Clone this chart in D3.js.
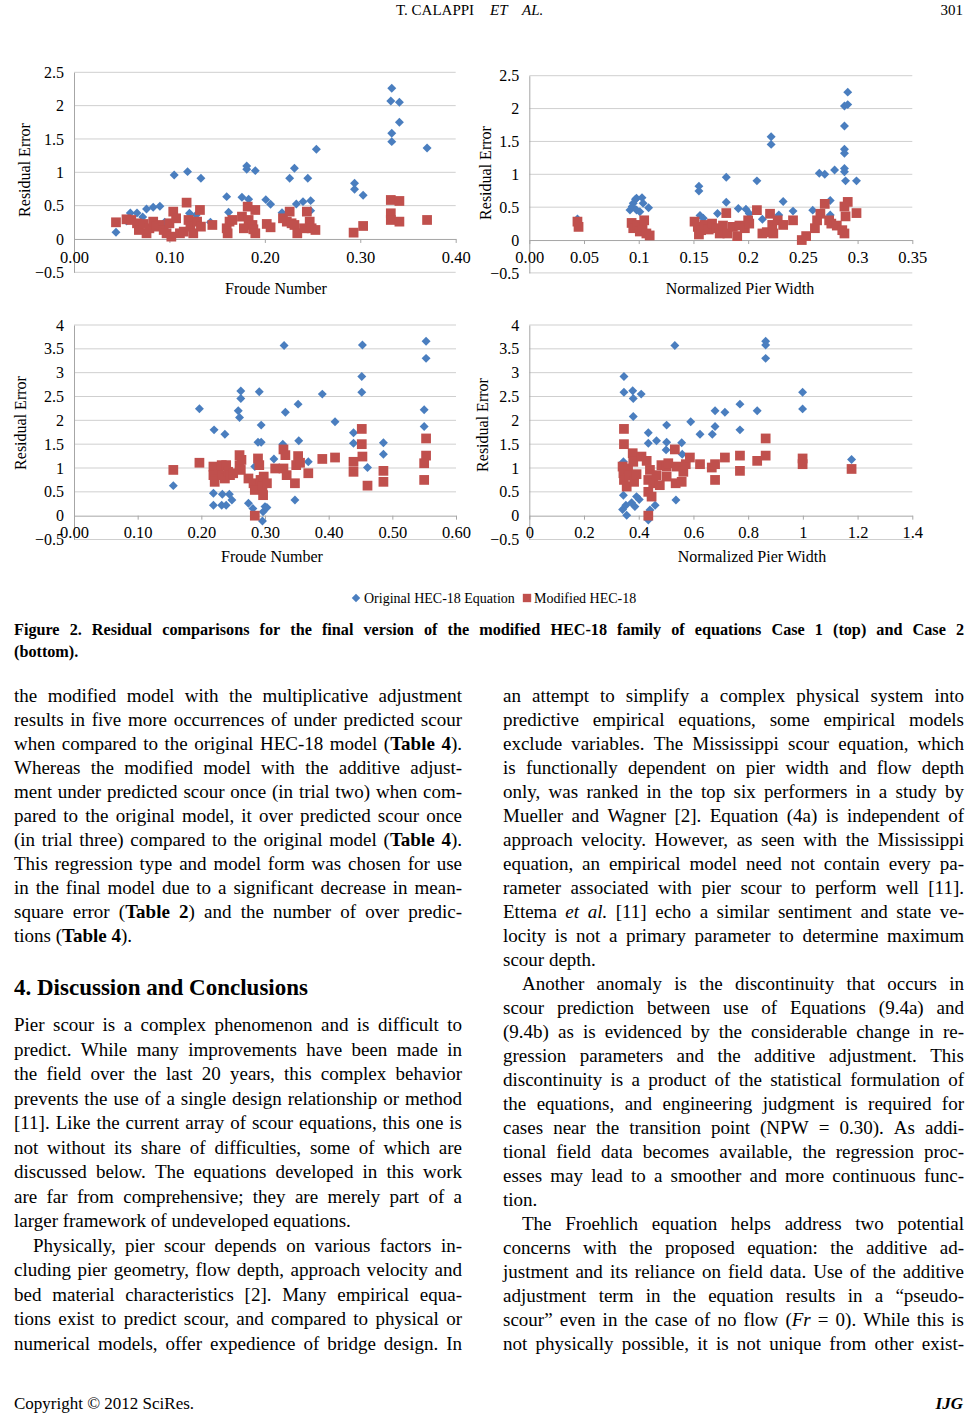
<!DOCTYPE html>
<html><head><meta charset="utf-8">
<script src="https://cdn.jsdelivr.net/npm/d3@7"></script>
<style>
body{margin:0;background:#fff;}
svg{display:block;font-family:"Liberation Serif","Times New Roman",serif;}
</style></head><body>
<svg id="page" width="967" height="1414"></svg>
<script>
// ---------------- DATA ----------------
const seriesNames = ["Original HEC-18 Equation", "Modified HEC-18"];

const yTicksCase1 = [-0.5, 0, 0.5, 1, 1.5, 2, 2.5];
const yLabelsCase1 = ["\u22120.5", "0", "0.5", "1", "1.5", "2", "2.5"];
const yTicksCase2 = [-0.5, 0, 0.5, 1, 1.5, 2, 2.5, 3, 3.5, 4];
const yLabelsCase2 = ["\u22120.5", "0", "0.5", "1", "1.5", "2", "2.5", "3", "3.5", "4"];

const xTicksP1 = [0, 0.1, 0.2, 0.3, 0.4];
const xLabelsP1 = ["0.00", "0.10", "0.20", "0.30", "0.40"];
const xTicksP2 = [0, 0.05, 0.1, 0.15, 0.2, 0.25, 0.3, 0.35];
const xLabelsP2 = ["0.00", "0.05", "0.1", "0.15", "0.2", "0.25", "0.3", "0.35"];
const xTicksP3 = [0, 0.1, 0.2, 0.3, 0.4, 0.5, 0.6];
const xLabelsP3 = ["0.00", "0.10", "0.20", "0.30", "0.40", "0.50", "0.60"];
const xTicksP4 = [0, 0.2, 0.4, 0.6, 0.8, 1, 1.2, 1.4];
const xLabelsP4 = ["0", "0.2", "0.4", "0.6", "0.8", "1", "1.2", "1.4"];

// Case 1, Froude number
const p1Original = [[0.044,0.10],[0.055,0.27],[0.059,0.39],[0.066,0.39],[0.072,0.33],[0.076,0.45],[0.083,0.475],[0.090,0.49],[0.095,0.25],[0.105,0.96],[0.119,1.01],[0.121,0.385],[0.128,0.36],[0.133,0.91],[0.143,0.25],[0.160,0.635],[0.162,0.40],[0.176,0.625],[0.181,1.095],[0.181,1.045],[0.183,0.595],[0.190,1.025],[0.201,0.59],[0.206,0.52],[0.218,0.395],[0.226,0.91],[0.231,1.06],[0.233,0.525],[0.240,0.56],[0.245,0.91],[0.248,0.575],[0.248,0.425],[0.254,1.345],[0.294,0.835],[0.294,0.745],[0.303,0.655],[0.333,2.26],[0.332,2.07],[0.341,2.05],[0.341,1.75],[0.333,1.585],[0.333,1.46],[0.370,1.365]];
const p1Modified = [[0.044,0.25],[0.055,0.295],[0.06,0.285],[0.066,0.235],[0.068,0.135],[0.073,0.225],[0.076,0.085],[0.079,0.16],[0.083,0.26],[0.086,0.185],[0.09,0.21],[0.094,0.135],[0.097,0.085],[0.1,0.235],[0.102,0.035],[0.104,0.41],[0.107,0.31],[0.111,0.085],[0.115,0.11],[0.118,0.545],[0.12,0.285],[0.122,0.185],[0.125,0.085],[0.129,0.26],[0.132,0.435],[0.133,0.185],[0.145,0.21],[0.16,0.16],[0.161,0.085],[0.163,0.26],[0.166,0.285],[0.176,0.335],[0.178,0.16],[0.182,0.485],[0.183,0.285],[0.187,0.21],[0.188,0.145],[0.19,0.085],[0.19,0.435],[0.202,0.225],[0.206,0.175],[0.219,0.31],[0.223,0.26],[0.226,0.41],[0.228,0.235],[0.231,0.21],[0.234,0.085],[0.241,0.16],[0.244,0.41],[0.247,0.26],[0.249,0.16],[0.253,0.135],[0.293,0.095],[0.303,0.195],[0.332,0.585],[0.332,0.385],[0.332,0.285],[0.341,0.57],[0.341,0.26],[0.37,0.285]];

// Case 1, normalized pier width
const p2Original = [[0.044,0.32],[0.092,0.457],[0.094,0.51],[0.095,0.56],[0.097,0.62],[0.098,0.635],[0.103,0.645],[0.101,0.43],[0.098,0.457],[0.109,0.49],[0.104,0.56],[0.156,0.375],[0.155,0.82],[0.155,0.745],[0.159,0.33],[0.172,0.405],[0.18,0.955],[0.18,0.575],[0.191,0.48],[0.198,0.47],[0.201,0.405],[0.208,0.9],[0.213,0.315],[0.221,1.57],[0.221,1.455],[0.228,0.38],[0.232,0.585],[0.241,0.44],[0.259,0.455],[0.265,1.015],[0.27,1.0],[0.275,0.6],[0.279,1.065],[0.275,0.38],[0.288,2.04],[0.288,1.735],[0.288,1.38],[0.288,1.32],[0.288,1.09],[0.288,1.04],[0.289,0.9],[0.291,2.25],[0.291,2.06],[0.299,0.9]];
const p2Modified = [[0.044,0.28],[0.045,0.2],[0.0935,0.26],[0.095,0.18],[0.099,0.23],[0.101,0.13],[0.1035,0.2],[0.105,0.3],[0.107,0.1],[0.11,0.07],[0.151,0.28],[0.154,0.2],[0.155,0.085],[0.157,0.15],[0.16,0.23],[0.164,0.16],[0.167,0.25],[0.171,0.18],[0.174,0.1],[0.177,0.22],[0.18,0.41],[0.181,0.1],[0.186,0.2],[0.19,0.06],[0.192,0.22],[0.197,0.18],[0.2,0.3],[0.201,0.25],[0.208,0.455],[0.213,0.1],[0.217,0.12],[0.22,0.4],[0.222,0.23],[0.223,0.1],[0.227,0.3],[0.232,0.23],[0.241,0.3],[0.249,0.0],[0.253,0.06],[0.261,0.18],[0.263,0.3],[0.266,0.4],[0.27,0.55],[0.274,0.3],[0.276,0.25],[0.281,0.22],[0.286,0.15],[0.288,0.51],[0.289,0.36],[0.291,0.58],[0.299,0.41],[0.288,0.1]];

// Case 2, Froude number
const p3Original = [[0.156,0.63],[0.197,2.245],[0.22,1.8],[0.219,0.47],[0.219,0.22],[0.237,1.71],[0.232,0.22],[0.239,0.22],[0.233,0.45],[0.244,0.45],[0.248,0.33],[0.258,2.2],[0.26,2.06],[0.262,2.615],[0.262,2.46],[0.274,0.26],[0.281,0.15],[0.284,1.03],[0.291,2.6],[0.289,1.54],[0.294,1.54],[0.294,1.9],[0.296,-0.11],[0.297,0.08],[0.3,0.19],[0.303,0.17],[0.314,1.19],[0.328,1.5],[0.33,3.57],[0.332,2.17],[0.347,0.33],[0.352,2.34],[0.353,1.57],[0.368,1.13],[0.39,2.55],[0.41,1.97],[0.439,1.74],[0.439,1.52],[0.453,3.58],[0.452,2.92],[0.452,2.59],[0.461,1.01],[0.486,1.53],[0.486,1.29],[0.553,3.66],[0.553,3.3],[0.55,2.22],[0.55,1.87]];
const p3Modified = [[0.156,0.96],[0.197,1.11],[0.219,1.03],[0.219,0.85],[0.221,0.71],[0.227,0.96],[0.232,1.06],[0.233,0.85],[0.237,0.78],[0.239,1.06],[0.242,0.92],[0.245,0.85],[0.25,0.89],[0.26,1.27],[0.26,1.06],[0.262,0.96],[0.263,1.17],[0.274,0.78],[0.282,0.68],[0.284,0.54],[0.289,1.2],[0.291,1.06],[0.293,0.75],[0.296,0.61],[0.297,0.43],[0.298,0.82],[0.303,0.68],[0.284,0.0],[0.316,0.99],[0.329,1.39],[0.332,1.27],[0.334,0.85],[0.347,0.68],[0.349,1.06],[0.352,1.25],[0.355,1.11],[0.368,0.89],[0.39,1.19],[0.41,1.22],[0.439,1.13],[0.439,0.92],[0.452,1.82],[0.452,1.5],[0.453,1.24],[0.461,0.63],[0.486,0.94],[0.486,0.71],[0.553,1.62],[0.553,1.26],[0.55,1.1],[0.55,0.75],[0.329,0.99]];

// Case 2, normalized pier width
const p4Original = [[0.346,2.92],[0.346,2.59],[0.341,0.13],[0.378,2.62],[0.38,2.46],[0.38,2.08],[0.409,2.55],[0.435,1.74],[0.435,1.52],[0.465,1.57],[0.502,1.9],[0.502,1.54],[0.5,1.38],[0.532,3.57],[0.536,0.33],[0.557,1.53],[0.559,1.29],[0.59,1.97],[0.624,1.71],[0.669,1.71],[0.679,1.87],[0.679,2.2],[0.715,2.17],[0.77,2.34],[0.77,1.8],[0.833,2.2],[0.864,3.66],[0.864,3.58],[0.864,3.3],[0.999,2.59],[0.999,2.24],[1.178,1.18],[0.356,0.01],[0.353,0.22],[0.374,0.27],[0.386,0.19],[0.392,0.4],[0.402,0.34],[0.435,-0.09],[0.441,0.12],[0.46,0.22],[0.344,0.43],[0.344,1.13]];
const p4Modified = [[0.346,1.82],[0.346,1.5],[0.341,1.03],[0.344,0.89],[0.346,0.75],[0.356,0.61],[0.361,0.99],[0.367,0.85],[0.378,1.31],[0.38,1.13],[0.383,0.71],[0.392,0.87],[0.41,1.24],[0.429,1.15],[0.435,0.0],[0.435,0.5],[0.435,0.75],[0.441,0.96],[0.447,0.4],[0.453,0.68],[0.465,0.85],[0.477,0.64],[0.483,1.06],[0.502,1.03],[0.502,0.82],[0.508,1.1],[0.532,1.39],[0.535,0.68],[0.539,1.03],[0.557,0.71],[0.563,0.92],[0.572,1.08],[0.587,1.22],[0.624,1.08],[0.667,1.01],[0.679,0.75],[0.679,1.08],[0.715,1.22],[0.77,1.26],[0.77,0.94],[0.833,1.15],[0.864,1.62],[0.864,1.26],[0.999,1.2],[0.999,1.08],[1.178,0.98]];

// ---------------- TEXT ----------------
const captionLines = [
  "Figure 2. Residual comparisons for the final version of the modified HEC-18 family of equations Case 1 (top) and Case 2",
  "(bottom).|"
];
const leftTop = [
  "the modified model with the multiplicative adjustment",
  "results in five more occurrences of under predicted scour",
  "when compared to the original HEC-18 model (*Table 4*).",
  "Whereas the modified model with the additive adjust-",
  "ment under predicted scour once (in trial two) when com-",
  "pared to the original model, it over predicted scour once",
  "(in trial three) compared to the original model (*Table 4*).",
  "This regression type and model form was chosen for use",
  "in the final model due to a significant decrease in mean-",
  "square error (*Table 2*) and the number of over predic-",
  "tions (*Table 4*).|"
];
const heading = "4. Discussion and Conclusions";
const leftBottom = [
  "Pier scour is a complex phenomenon and is difficult to",
  "predict. While many improvements have been made in",
  "the field over the last 20 years, this complex behavior",
  "prevents the use of a single design relationship or method",
  "[11]. Like the current array of scour equations, this one is",
  "not without its share of difficulties, some of which are",
  "discussed below. The equations developed in this work",
  "are far from comprehensive; they are merely part of a",
  "larger framework of undeveloped equations.|",
  ">Physically, pier scour depends on various factors in-",
  "cluding pier geometry, flow depth, approach velocity and",
  "bed material characteristics [2]. Many empirical equa-",
  "tions exist to predict scour, and compared to physical or",
  "numerical models, offer expedience of bridge design. In"
];
const rightCol = [
  "an attempt to simplify a complex physical system into",
  "predictive empirical equations, some empirical models",
  "exclude variables. The Mississippi scour equation, which",
  "is functionally dependent on pier width and flow depth",
  "only, was ranked in the top six performers in a study by",
  "Mueller and Wagner [2]. Equation (4a) is independent of",
  "approach velocity. However, as seen with the Mississippi",
  "equation, an empirical model need not contain every pa-",
  "rameter associated with pier scour to perform well [11].",
  "Ettema _et al._ [11] echo a similar sentiment and state ve-",
  "locity is not a primary parameter to determine maximum",
  "scour depth.|",
  ">Another anomaly is the discontinuity that occurs in",
  "scour prediction between use of Equations (9.4a) and",
  "(9.4b) as is evidenced by the considerable change in re-",
  "gression parameters and the additive adjustment. This",
  "discontinuity is a product of the statistical formulation of",
  "the equations, and engineering judgment is required for",
  "cases near the transition point (NPW = 0.30). As addi-",
  "tional field data becomes available, the regression proc-",
  "esses may lead to a smoother and more continuous func-",
  "tion.|",
  ">The Froehlich equation helps address two potential",
  "concerns with the proposed equation: the additive ad-",
  "justment and its reliance on field data. Use of the additive",
  "adjustment term in the equation results in a \u201cpseudo-",
  "scour\u201d even in the case of no flow (_Fr_ = 0). While this is",
  "not physically possible, it is not unique from other exist-"
];

// ---------------- DRAW ----------------
const svg = d3.select("#page");
const BLUE = "#4A7EBF", RED = "#C0504D";

function drawPanel(c) {
  const x = d3.scaleLinear().domain([c.xTicks[0], c.xTicks[c.xTicks.length-1]]).range(c.xRange);
  const y = d3.scaleLinear().domain([c.yTicks[0], c.yTicks[c.yTicks.length-1]]).range(c.yRange);
  const g = svg.append("g");
  // gridlines
  g.selectAll("line.grid").data(c.yTicks.filter(d => d !== 0)).join("line")
    .attr("x1", c.xRange[0]).attr("x2", c.xRange[1])
    .attr("y1", d => y(d)).attr("y2", d => y(d))
    .attr("stroke", "#cfcfcf").attr("stroke-width", 1);
  // y axis
  const ya = g.append("g").attr("transform", `translate(${c.xRange[0]},0)`)
    .call(d3.axisLeft(y).tickValues(c.yTicks).tickFormat((d, i) => c.yLabels[i]).tickSize(0).tickPadding(10));
  ya.select(".domain").attr("stroke", "#a6a6a6");
  ya.selectAll("text").attr("font-size", 16).attr("font-family", "Liberation Serif").attr("fill", "#000");
  // x axis at zero
  const xa = g.append("g").attr("transform", `translate(0,${y(0)})`)
    .call(d3.axisBottom(x).tickValues(c.xTicks).tickFormat((d, i) => c.xLabels[i]).tickSize(4).tickSizeOuter(0).tickPadding(c.xPad));
  xa.select(".domain").attr("stroke", "#a6a6a6");
  xa.selectAll("line").attr("stroke", "#a6a6a6");
  xa.selectAll("text").attr("font-size", 16.5).attr("font-family", "Liberation Serif").attr("fill", "#000");
  // titles
  g.append("text").attr("x", c.xTitlePos[0]).attr("y", c.xTitlePos[1]).attr("text-anchor", "middle")
    .attr("font-size", 16).text(c.xTitle);
  g.append("text").attr("transform", `translate(${c.yTitlePos[0]},${c.yTitlePos[1]}) rotate(-90)`)
    .attr("text-anchor", "middle").attr("font-size", 16).text("Residual Error");
  // points
  const diamond = d3.symbol().type(d3.symbolSquare).size(40);
  g.append("g").selectAll("path").data(c.orig).join("path")
    .attr("d", diamond).attr("transform", d => `translate(${x(d[0])},${y(d[1])}) rotate(45)`)
    .attr("fill", BLUE);
  const square = d3.symbol().type(d3.symbolSquare).size(95);
  g.append("g").selectAll("path").data(c.mod).join("path")
    .attr("d", square).attr("transform", d => `translate(${x(d[0])},${y(d[1])})`)
    .attr("fill", RED);
}

drawPanel({xTicks: xTicksP1, xLabels: xLabelsP1, yTicks: yTicksCase1, yLabels: yLabelsCase1,
  xRange: [74, 455.7], yRange: [272.3, 72.3], xPad: 8, xTitle: "Froude Number",
  xTitlePos: [276, 294], yTitlePos: [30, 170], orig: p1Original, mod: p1Modified});
drawPanel({xTicks: xTicksP2, xLabels: xLabelsP2, yTicks: yTicksCase1, yLabels: yLabelsCase1,
  xRange: [529.3, 912.3], yRange: [272.9, 75.7], xPad: 7, xTitle: "Normalized Pier Width",
  xTitlePos: [740, 294], yTitlePos: [491, 173], orig: p2Original, mod: p2Modified});
drawPanel({xTicks: xTicksP3, xLabels: xLabelsP3, yTicks: yTicksCase2, yLabels: yLabelsCase2,
  xRange: [74, 456], yRange: [539.5, 325], xPad: 7, xTitle: "Froude Number",
  xTitlePos: [272, 562], yTitlePos: [26, 423], orig: p3Original, mod: p3Modified});
drawPanel({xTicks: xTicksP4, xLabels: xLabelsP4, yTicks: yTicksCase2, yLabels: yLabelsCase2,
  xRange: [529.3, 912.3], yRange: [539.5, 325], xPad: 7, xTitle: "Normalized Pier Width",
  xTitlePos: [752, 562], yTitlePos: [488, 425], orig: p4Original, mod: p4Modified});

// legend
const lg = svg.append("g").attr("font-size", 14);
lg.append("path").attr("d", d3.symbol().type(d3.symbolSquare).size(36)).attr("transform", "translate(356,598) rotate(45)").attr("fill", BLUE);
lg.append("text").attr("x", 364).attr("y", 603).text(seriesNames[0]);
lg.append("path").attr("d", d3.symbol().type(d3.symbolSquare).size(70)).attr("transform", "translate(527,598)").attr("fill", RED);
lg.append("text").attr("x", 534).attr("y", 603).text(seriesNames[1]);

// header / footer
svg.append("text").attr("x", 396).attr("y", 15).attr("font-size", 15).text("T. CALAPPI");
svg.append("text").attr("x", 490).attr("y", 15).attr("font-size", 15).attr("font-style", "italic").text("ET");
svg.append("text").attr("x", 522).attr("y", 15).attr("font-size", 15).attr("font-style", "italic").text("AL.");
svg.append("text").attr("x", 963).attr("y", 15).attr("font-size", 15).attr("text-anchor", "end").text("301");
svg.append("text").attr("x", 14).attr("y", 1409).attr("font-size", 17).text("Copyright \u00a9 2012 SciRes.");
svg.append("text").attr("x", 963).attr("y", 1409).attr("font-size", 17).attr("text-anchor", "end")
  .attr("font-weight", "bold").attr("font-style", "italic").text("IJG");

// justified text
function parseWords(str) {
  const words = []; let cur = [], b = false, it = false, buf = "";
  const flush = () => { if (buf) { cur.push({s: buf, b, i: it}); buf = ""; } };
  for (const ch of str) {
    if (ch === "*") { flush(); b = !b; }
    else if (ch === "_") { flush(); it = !it; }
    else if (ch === " ") { flush(); if (cur.length) { words.push(cur); cur = []; } }
    else buf += ch;
  }
  flush(); if (cur.length) words.push(cur);
  return words;
}
function layoutBlock(lines, o) {
  lines.forEach((raw, i) => {
    let s = raw, indent = 0, last = false;
    if (s.startsWith(">")) { indent = o.indent; s = s.slice(1); }
    if (s.endsWith("|")) { last = true; s = s.slice(0, -1); }
    const yy = o.y0 + i * o.dy;
    const words = parseWords(s);
    const nodes = words.map(w => {
      const t = svg.append("text").attr("y", yy).attr("font-size", o.size)
        .attr("font-weight", o.bold ? "bold" : null);
      w.forEach(r => t.append("tspan").text(r.s)
        .attr("font-weight", (r.b || o.bold) ? "bold" : null)
        .attr("font-style", r.i ? "italic" : null));
      return t;
    });
    const widths = nodes.map(n => n.node().getComputedTextLength());
    const x0 = o.x0 + indent, W = o.x1 - x0;
    const gap = (last || nodes.length < 2) ? o.size * 0.25 : (W - d3.sum(widths)) / (nodes.length - 1);
    let xx = x0;
    nodes.forEach((n, k) => { n.attr("x", xx); xx += widths[k] + gap; });
  });
}
layoutBlock(captionLines, {x0: 14, x1: 964, y0: 635, dy: 22, size: 16.2, bold: true, indent: 0});
layoutBlock(leftTop, {x0: 14, x1: 462, y0: 702, dy: 24, size: 19, indent: 19});
svg.append("text").attr("x", 14).attr("y", 995).attr("font-size", 23).attr("font-weight", "bold").text(heading);
layoutBlock(leftBottom, {x0: 14, x1: 462, y0: 1031, dy: 24.5, size: 19, indent: 19});
layoutBlock(rightCol, {x0: 503, x1: 964, y0: 702, dy: 24, size: 19, indent: 19});
</script>
</body></html>
